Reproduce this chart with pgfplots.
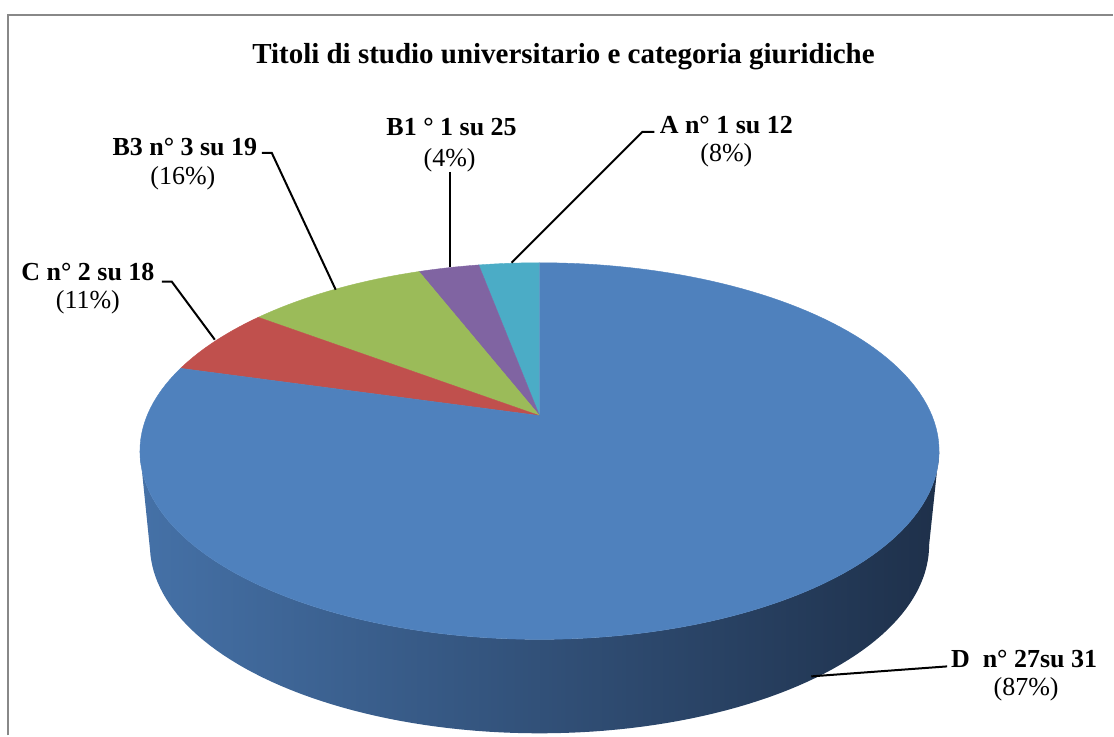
\documentclass[border=0pt]{standalone}
\usepackage{fontspec}
\setmainfont{Liberation Serif}
\usepackage{pgfplots}
\usepackage{pgfplotstable}
\pgfplotsset{compat=1.18}

\definecolor{cA}{HTML}{4BACC6}
\definecolor{cBa}{HTML}{8064A2}
\definecolor{cBc}{HTML}{9BBB59}
\definecolor{cC}{HTML}{C0504D}
\definecolor{cD}{HTML}{4F81BD}
\definecolor{sideL}{HTML}{4571A7}
\definecolor{sideR}{HTML}{1E304A}
\definecolor{cornice}{HTML}{888888}

% valori delle fette (in senso antiorario partendo dalle ore 12)
\pgfplotstableread{
nome val
A    1
B1   1
B3   3
C    2
D    27
}\torta

\pgfplotstablegetelem{0}{val}\of\torta \edef\vA{\pgfplotsretval}
\pgfplotstablegetelem{1}{val}\of\torta \edef\vBa{\pgfplotsretval}
\pgfplotstablegetelem{2}{val}\of\torta \edef\vBc{\pgfplotsretval}
\pgfplotstablegetelem{3}{val}\of\torta \edef\vC{\pgfplotsretval}
\pgfplotstablegetelem{4}{val}\of\torta \edef\vD{\pgfplotsretval}
\pgfmathsetmacro\tot{\vA+\vBa+\vBc+\vC+\vD}
\pgfmathsetmacro\aA{90+360*\vA/\tot}
\pgfmathsetmacro\aBa{\aA+360*\vBa/\tot}
\pgfmathsetmacro\aBc{\aBa+360*\vBc/\tot}
\pgfmathsetmacro\aC{\aBc+360*\vC/\tot}

\begin{document}
\begin{tikzpicture}
\begin{axis}[
  x=0.5pt, y=0.5pt,
  xmin=0, xmax=1114, ymin=0, ymax=736,
  hide axis, clip=false,
  % cerchio visto in prospettiva
  declare function={
    kx(\a)=392.8*cos(\a)/(1+0.1883*sin(\a));
    px(\a)=540+kx(\a);
    py(\a)=(242.07*sin(\a)+320)/(1+0.1883*sin(\a));
    th(\a)=-10.85-158.3*min(\a,1)+158.3*max(\a-1,0);
  },
]
\path (0,0) rectangle (1114,736);

% bordo laterale
\addplot[draw=none, left color=sideL, right color=sideR,
  domain=0:2, samples=201, variable=\t]
  ({540+(1-0.025*(\t>1))*kx(th(\t))}, {py(th(\t))-94*(\t>1)}) -- cycle;

% fette
\addplot[fill=cA, draw=cA, line width=0.2pt, domain=90:\aA, samples=12, variable=\t]
  ({px(\t)}, {py(\t)}) -- (540,320) -- cycle;
\addplot[fill=cBa, draw=cBa, line width=0.2pt, domain=\aA:\aBa, samples=12, variable=\t]
  ({px(\t)}, {py(\t)}) -- (540,320) -- cycle;
\addplot[fill=cBc, draw=cBc, line width=0.2pt, domain=\aBa:\aBc, samples=25, variable=\t]
  ({px(\t)}, {py(\t)}) -- (540,320) -- cycle;
\addplot[fill=cC, draw=cC, line width=0.2pt, domain=\aBc:\aC, samples=18, variable=\t]
  ({px(\t)}, {py(\t)}) -- (540,320) -- cycle;
\addplot[fill=cD, draw=cD, line width=0.2pt, domain=\aC:450, samples=150, variable=\t]
  ({px(\t)}, {py(\t)}) -- (540,320) -- cycle;

% cornice
\draw[cornice, line width=1pt] (8,0) -- (8,721) -- (1114,721);

% titolo
\node[font=\bfseries\fontsize{14.5}{17}\selectfont] at (564,679)
  {Titoli di studio universitario e categoria giuridiche};

% linee guida
\draw[line width=1pt] (262,583) -- (272,583) -- (336,446);
\draw[line width=1pt] (450,564) -- (450,469);
\draw[line width=1pt] (655,604) -- (643,604) -- (512,473);
\draw[line width=1pt] (162,454) -- (172,454) -- (215,396);
\draw[line width=1pt] (948,69) -- (812,59);

% etichette
\begin{scope}[every node/.style={font=\fontsize{13}{15}\selectfont}]
\node[font=\bfseries\fontsize{13}{15}\selectfont] at (185,589) {B3 n° 3 su 19};
\node at (183,558) {(16\%)};
\node[font=\bfseries\fontsize{13}{15}\selectfont] at (452,609) {B1 ° 1 su 25};
\node at (450,576) {(4\%)};
\node[font=\bfseries\fontsize{13}{15}\selectfont] at (727,611) {A n° 1 su 12};
\node at (727,581) {(8\%)};
\node[font=\bfseries\fontsize{13}{15}\selectfont] at (88,464) {C n° 2 su 18};
\node at (88,433) {(11\%)};
\node[font=\bfseries\fontsize{13}{15}\selectfont] at (1025,76) {D\ \ n° 27su 31};
\node at (1027,46) {(87\%)};
\end{scope}
\end{axis}
\end{tikzpicture}
\end{document}
